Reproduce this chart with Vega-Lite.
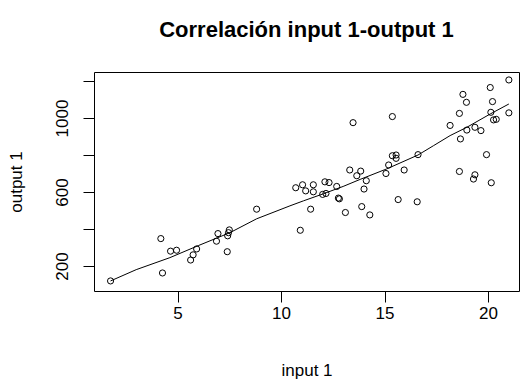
{
  "$schema": "https://vega.github.io/schema/vega-lite/v6.json",
  "width": 425,
  "height": 219,
  "autosize": "none",
  "padding": {"left": 94, "top": 72, "right": 4, "bottom": 92},
  "background": "white",
  "config": {
    "font": "Liberation Sans",
    "view": {"stroke": "black", "strokeWidth": 1},
    "axis": {"grid": false, "domain": false, "tickColor": "black", "tickSize": 11, "labelColor": "black", "titleColor": "black", "labelFontSize": 17, "titleFontSize": 17, "titleFontWeight": "normal", "labelFont": "Liberation Sans", "titleFont": "Liberation Sans"}
  },
  "title": {"text": "Correlación input 1-output 1", "fontSize": 22, "fontWeight": "bold", "font": "Liberation Sans", "anchor": "middle", "frame": "group", "baseline": "alphabetic", "offset": 13, "color": "black"},
  "datasets": {
    "pts": [
      {"x": 1.76, "y": 119}, {"x": 4.19, "y": 348}, {"x": 4.27, "y": 162}, {"x": 4.66, "y": 280}, {"x": 4.95, "y": 285},
      {"x": 5.63, "y": 232}, {"x": 5.75, "y": 260}, {"x": 5.92, "y": 292}, {"x": 6.88, "y": 334}, {"x": 6.95, "y": 375},
      {"x": 7.40, "y": 277}, {"x": 7.42, "y": 363}, {"x": 7.50, "y": 395}, {"x": 7.46, "y": 380}, {"x": 8.82, "y": 507},
      {"x": 10.71, "y": 623}, {"x": 11.04, "y": 639}, {"x": 11.19, "y": 606}, {"x": 11.56, "y": 639}, {"x": 11.56, "y": 601},
      {"x": 11.43, "y": 507}, {"x": 10.93, "y": 393}, {"x": 12.01, "y": 587}, {"x": 12.17, "y": 592}, {"x": 12.12, "y": 655},
      {"x": 12.32, "y": 651}, {"x": 12.69, "y": 630}, {"x": 12.77, "y": 567}, {"x": 12.82, "y": 563}, {"x": 13.11, "y": 489},
      {"x": 13.32, "y": 719}, {"x": 13.48, "y": 975}, {"x": 13.66, "y": 688}, {"x": 13.85, "y": 713}, {"x": 14.12, "y": 661},
      {"x": 14.01, "y": 616}, {"x": 13.90, "y": 521}, {"x": 14.29, "y": 476}, {"x": 15.07, "y": 700}, {"x": 15.20, "y": 746},
      {"x": 15.38, "y": 1008}, {"x": 15.38, "y": 796}, {"x": 15.56, "y": 800}, {"x": 15.56, "y": 782}, {"x": 15.66, "y": 559},
      {"x": 15.95, "y": 719}, {"x": 16.58, "y": 547}, {"x": 16.62, "y": 802}, {"x": 18.17, "y": 960}, {"x": 18.62, "y": 1025},
      {"x": 18.79, "y": 1128}, {"x": 18.96, "y": 1085}, {"x": 18.67, "y": 887}, {"x": 18.62, "y": 711}, {"x": 18.98, "y": 935},
      {"x": 19.37, "y": 950}, {"x": 19.66, "y": 932}, {"x": 19.93, "y": 802}, {"x": 19.30, "y": 670}, {"x": 19.37, "y": 693},
      {"x": 20.16, "y": 650}, {"x": 20.11, "y": 1165}, {"x": 20.22, "y": 1089}, {"x": 20.14, "y": 1031}, {"x": 20.27, "y": 990},
      {"x": 20.40, "y": 993}, {"x": 21.01, "y": 1206}, {"x": 21.01, "y": 1028}
    ],
    "fit": [
      {"x": 1.76, "y": 119}, {"x": 3.0, "y": 180}, {"x": 4.63, "y": 245}, {"x": 6.0, "y": 310}, {"x": 7.53, "y": 380},
      {"x": 8.82, "y": 455}, {"x": 10.43, "y": 525}, {"x": 11.08, "y": 552}, {"x": 12.04, "y": 590}, {"x": 13.0, "y": 630},
      {"x": 13.82, "y": 668}, {"x": 15.11, "y": 725}, {"x": 16.62, "y": 800}, {"x": 17.36, "y": 850}, {"x": 18.17, "y": 905},
      {"x": 18.98, "y": 950}, {"x": 20.11, "y": 1022}, {"x": 21.01, "y": 1076}
    ]
  },
  "encoding": {
    "x": {"field": "x", "type": "quantitative", "scale": {"domain": [0.96, 21.5], "nice": false, "zero": false},
      "axis": {"title": "input 1", "values": [5, 10, 15, 20], "labelPadding": 3, "titlePadding": 41}},
    "y": {"field": "y", "type": "quantitative", "scale": {"domain": [64.5, 1249], "nice": false, "zero": false},
      "axis": {"title": "output 1", "values": [200, 400, 600, 800, 1000, 1200], "format": "d", "labelExpr": "datum.value % 400 == 200 ? datum.label : ''", "labelAngle": -90, "labelAlign": "center", "labelBaseline": "alphabetic", "labelPadding": 16, "titlePadding": 28}}
  },
  "layer": [
    {"data": {"name": "pts"}, "mark": {"type": "point", "shape": "circle", "filled": false, "size": 38, "stroke": "black", "strokeWidth": 1, "opacity": 1}},
    {"data": {"name": "fit"}, "mark": {"type": "line", "color": "black", "strokeWidth": 1}}
  ]
}
